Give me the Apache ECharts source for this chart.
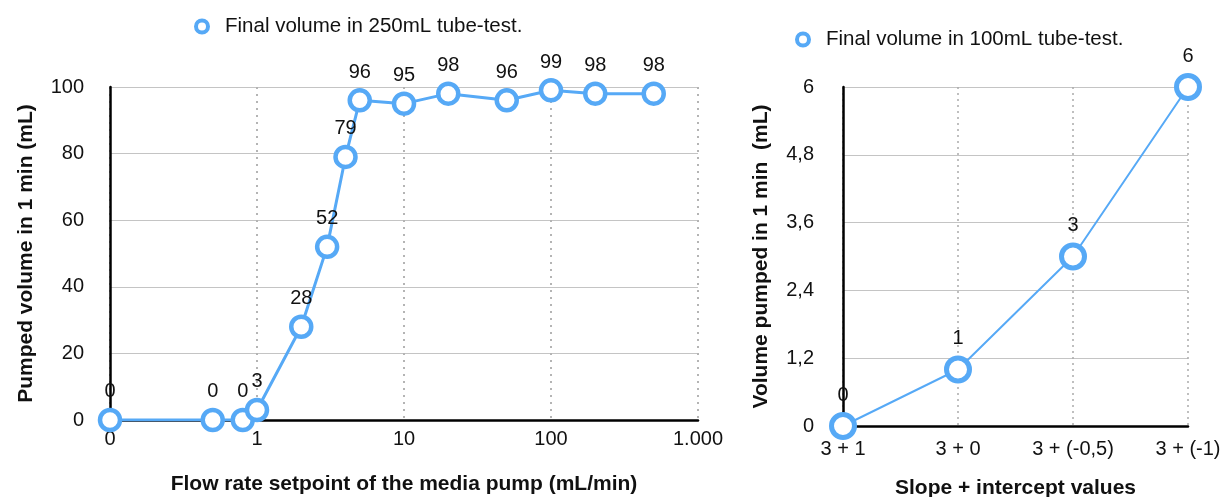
<!DOCTYPE html>
<html><head><meta charset="utf-8">
<script src="https://cdn.jsdelivr.net/npm/echarts@6/dist/echarts.min.js"></script>
<style>html,body{margin:0;padding:0;background:#fff;overflow:hidden}#c{width:1227px;height:497px}</style>
</head><body><div id="c"></div>
<script>
// Left chart data (x = flow rate setpoint; 0.1 on the log axis stands for "0")
const flowRates = [0.1, 0.5, 0.8, 1, 2, 3, 4, 5, 10, 20, 50, 100, 200, 500];
const volume250 = [0, 0, 0, 3, 28, 52, 79, 96, 95, 98, 96, 99, 98, 98];
// Right chart data
const slopeCats = ['3 + 1', '3 + 0', '3 + (-0,5)', '3 + (-1)'];
const volume100 = [0, 1, 3, 6];

const FONT = 'Liberation Sans, Arial, sans-serif';
const BLUE = '#56a9f6';
const chart = echarts.init(document.getElementById('c'));
const lbl = {fontFamily: FONT, fontSize: 20, color: '#111'};
const ttl = {fontFamily: FONT, fontSize: 21, fontWeight: 'bold', color: '#111'};
const legText = {fontFamily: FONT, fontSize: 20.5, color: '#111'};

chart.setOption({
  animation: false,
  legend: [
    {left: 189, top: 11, icon: 'circle', itemWidth: 36, itemHeight: 12,
     textStyle: legText, data: ['Final volume in 250mL tube-test.'],
     itemStyle: {color: '#fff', borderColor: BLUE, borderWidth: 4}},
    {left: 790, top: 24, icon: 'circle', itemWidth: 36, itemHeight: 12,
     textStyle: legText, data: ['Final volume in 100mL tube-test.'],
     itemStyle: {color: '#fff', borderColor: BLUE, borderWidth: 4}}
  ],
  grid: [
    {left: 110, right: 529, top: 87, bottom: 77, outerBoundsMode: 'none', containLabel: false},
    {left: 843, right: 39, top: 87, bottom: 71, outerBoundsMode: 'none', containLabel: false}
  ],
  xAxis: [
    {type: 'log', gridIndex: 0, min: 0.1, max: 1000, logBase: 10,
     axisLine: {lineStyle: {color: '#000', width: 2.5}}, axisTick: {show: false},
     axisLabel: Object.assign({margin: 9, formatter: v => v <= 0.1 ? '0' : (v >= 1000 ? '1.000' : String(v))}, lbl),
     splitLine: {show: true, lineStyle: {type: [2, 5], color: '#b4b4b4', width: 2}},
     minorTick: {show: false},
     name: 'Flow rate setpoint of the media pump (mL/min)', nameLocation: 'middle', nameGap: 54,
     nameTextStyle: ttl},
    {type: 'category', gridIndex: 1, data: slopeCats, boundaryGap: false,
     axisLine: {lineStyle: {color: '#000', width: 2.5}}, axisTick: {show: false},
     axisLabel: Object.assign({margin: 13, interval: 0}, lbl),
     splitLine: {show: true, interval: 0, lineStyle: {type: [2, 4], color: '#aaa', width: 1.5}},
     name: 'Slope + intercept values', nameLocation: 'middle', nameGap: 52,
     nameTextStyle: ttl}
  ],
  yAxis: [
    {type: 'value', gridIndex: 0, min: 0, max: 100, interval: 20,
     axisLine: {show: true, lineStyle: {color: '#000', width: 2.5}}, axisTick: {show: false},
     axisLabel: Object.assign({margin: 26}, lbl),
     splitLine: {show: true, lineStyle: {color: '#c4c4c4', width: 1}},
     name: 'Pumped volume in 1 min (mL)', nameLocation: 'middle', nameGap: 73,
     nameTextStyle: ttl},
    {type: 'value', gridIndex: 1, min: 0, max: 6, interval: 1.2,
     axisLine: {show: true, lineStyle: {color: '#000', width: 2.5}}, axisTick: {show: false},
     axisLabel: Object.assign({margin: 29, formatter: v => String(Math.round(v * 10) / 10).replace('.', ',')}, lbl),
     splitLine: {show: true, lineStyle: {color: '#c4c4c4', width: 1}},
     name: 'Volume pumped in 1 min  (mL)', nameLocation: 'middle', nameGap: 71,
     nameTextStyle: ttl}
  ],
  series: [
    {name: 'Final volume in 250mL tube-test.', type: 'line', xAxisIndex: 0, yAxisIndex: 0,
     data: flowRates.map((x, i) => [x, volume250[i]]),
     symbol: 'circle', symbolSize: 20,
     lineStyle: {color: BLUE, width: 3},
     itemStyle: {color: '#fff', borderColor: BLUE, borderWidth: 4.5},
     label: Object.assign({show: true, position: 'top', distance: 6}, lbl), z: 5},
    {name: 'Final volume in 100mL tube-test.', type: 'line', xAxisIndex: 1, yAxisIndex: 1,
     data: volume100,
     symbol: 'circle', symbolSize: 23,
     lineStyle: {color: BLUE, width: 2},
     itemStyle: {color: '#fff', borderColor: BLUE, borderWidth: 5},
     label: Object.assign({show: true, position: 'top', distance: 7}, lbl), z: 5}
  ]
});
</script></body></html>
